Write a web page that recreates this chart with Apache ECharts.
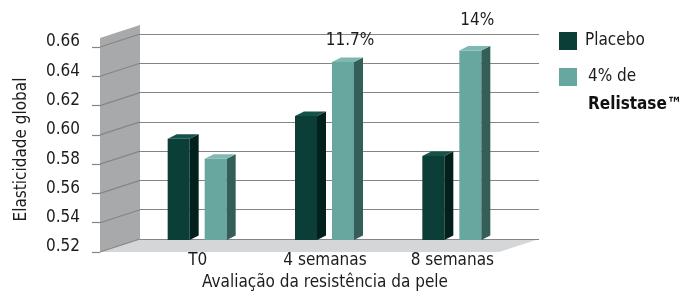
<!DOCTYPE html>
<html>
<head>
<meta charset="utf-8">
<script src="https://cdn.jsdelivr.net/npm/echarts@6/dist/echarts.min.js"></script>
<style>
  html, body { margin: 0; padding: 0; background: #fff; }
  #chart { width: 686px; height: 296px; }
</style>
</head>
<body>
<div id="chart"></div>
<script>
const categories = ['T0', '4 semanas', '8 semanas']
const placebo = [0.591, 0.607, 0.579]
const relistase = [0.577, 0.645, 0.653]
const gainLabels = ['', '11.7%', '14%']
const yTicks = [0.52, 0.54, 0.56, 0.58, 0.60, 0.62, 0.64, 0.66]
const seriesNames = ['Placebo', '4% de Relistase™']

const FONT = "'DejaVu Sans Condensed', 'DejaVu Sans', sans-serif"
const FS = 17
const C = {
  text: '#1c1c1c',
  grid: '#858585',
  wall: '#a8a9ab',
  floor: '#d5d6d7',
  placebo: { front: '#0b3e37', side: '#03211c', top: '#175249' },
  reli: { front: '#67a79f', side: '#335f58', top: '#7fb8b0' },
}

// front plane / back plane / bar plane
const FL = 100, FT = 47, PW = 399, PH = 205, DX = 40, DY = -13
const BAR_W = 22, BD_X = 9, BD_Y = -4.5
const yMin = yTicks[0], yMax = yTicks[yTicks.length - 1], yStep = 0.02
const labelLift = [0, 21, 30]

function renderWalls(params, api) {
  const a = api.coord([0, yMin]), b = api.coord([1, yMin]), t = api.coord([0, yMax])
  const top = t[1] - 9
  const children = [
    { type: 'polygon', shape: { points: [a, b, [b[0] + DX, b[1] + DY], [a[0] + DX, a[1] + DY]] },
      style: { fill: C.floor } },
    { type: 'polygon', shape: { points: [a, [a[0], top], [a[0] + DX, top + DY], [a[0] + DX, a[1] + DY]] },
      style: { fill: C.wall } },
  ]
  yTicks.forEach(v => {
    const p = api.coord([0, v])
    children.push({ type: 'line', shape: { x1: p[0], y1: p[1], x2: p[0] + DX, y2: p[1] + DY },
      style: { stroke: C.grid, lineWidth: 1.2 } })
  })
  return { type: 'group', children }
}

function barRenderer(x0, col, labels) {
  return (params, api) => {
    const idx = api.value(0)
    const p = api.coord([idx, api.value(1)]), base = api.coord([idx, yMin])
    const xl = p[0] + x0, xr = xl + BAR_W, yt = p[1], yb = base[1]
    const children = [
      { type: 'rect', shape: { x: xl, y: yt, width: BAR_W, height: yb - yt }, style: { fill: col.front } },
      { type: 'polygon', shape: { points: [[xr, yt], [xr + BD_X, yt + BD_Y], [xr + BD_X, yb + BD_Y], [xr, yb]] },
        style: { fill: col.side } },
      { type: 'polygon', shape: { points: [[xl, yt], [xl + BD_X, yt + BD_Y], [xr + BD_X, yt + BD_Y], [xr, yt]] },
        style: { fill: col.top } },
    ]
    if (labels && labels[idx]) {
      children.push({ type: 'text', style: {
        text: labels[idx], x: xl + 18, y: yt - labelLift[idx],
        align: 'center', verticalAlign: 'middle', fill: C.text, fontSize: FS, fontFamily: FONT } })
    }
    return { type: 'group', children }
  }
}

const hidden = { show: false }
const chart = echarts.init(document.getElementById('chart'), null, { renderer: 'canvas' })

chart.setOption({
  animation: false,
  textStyle: { fontFamily: FONT },
  grid: [
    { left: FL, top: FT, width: PW, height: PH },
    { left: FL + DX, top: FT + DY, width: PW, height: PH },
    { left: 134, top: FT + DY / 2, width: 382, height: PH },
  ],
  xAxis: [
    { gridIndex: 0, type: 'value', min: 0, max: 1, show: false },
    { gridIndex: 1, type: 'value', min: 0, max: 1, show: false },
    {
      gridIndex: 2, type: 'category', data: categories, z: 4,
      axisLine: hidden, axisTick: hidden,
      axisLabel: { color: C.text, fontSize: FS, fontFamily: FONT, margin: 12, interval: 0 },
      name: 'Avaliação da resistência da pele', nameLocation: 'middle', nameGap: 27,
      nameTextStyle: { color: C.text, fontSize: FS, fontFamily: FONT },
    },
  ],
  yAxis: [
    {
      gridIndex: 0, min: yMin, max: yMax, interval: yStep, z: 4,
      axisLine: hidden, splitLine: hidden,
      axisTick: { show: true, length: 8, lineStyle: { color: C.grid, width: 1.2 } },
      axisLabel: {
        color: C.text, fontSize: FS, fontFamily: FONT, margin: 20,
        verticalAlign: 'bottom', lineHeight: 10, formatter: v => v.toFixed(2),
      },
      name: 'Elasticidade global', nameLocation: 'middle', nameGap: 70,
      nameTextStyle: { color: C.text, fontSize: FS, fontFamily: FONT },
    },
    {
      gridIndex: 1, min: yMin, max: yMax, interval: yStep, z: 3,
      axisLine: hidden, axisTick: hidden, axisLabel: hidden,
      splitLine: { lineStyle: { color: C.grid, width: 1.2 } },
    },
    { gridIndex: 2, min: yMin, max: yMax, interval: yStep, show: false, splitLine: hidden },
  ],
  legend: {
    orient: 'vertical', left: 559, top: 27, padding: 0,
    itemWidth: 18, itemHeight: 18, itemGap: -20, icon: 'rect', selectedMode: false,
    data: [
      { name: seriesNames[0] },
      { name: seriesNames[1], textStyle: { padding: [28, 0, 0, 6] } },
    ],
    formatter: name => name === seriesNames[1] ? '4% de\n{b|Relistase™}' : name,
    textStyle: {
      color: C.text, fontSize: FS, fontFamily: FONT, lineHeight: 28, padding: [0, 0, 0, 3],
      rich: { b: { fontWeight: 'bold', fontSize: FS, fontFamily: FONT, lineHeight: 28, color: '#111' } },
    },
  },
  series: [
    {
      type: 'custom', xAxisIndex: 0, yAxisIndex: 0, z: 1, silent: true,
      renderItem: renderWalls, data: [[0, yMin]],
    },
    {
      name: seriesNames[0], type: 'custom', xAxisIndex: 2, yAxisIndex: 2, z: 5,
      itemStyle: { color: C.placebo.front },
      renderItem: barRenderer(-30, C.placebo, null),
      data: placebo.map((v, i) => [i, v]),
    },
    {
      name: seriesNames[1], type: 'custom', xAxisIndex: 2, yAxisIndex: 2, z: 5,
      itemStyle: { color: C.reli.front },
      renderItem: barRenderer(7, C.reli, gainLabels),
      data: relistase.map((v, i) => [i, v]),
    },
  ],
})
</script>
</body>
</html>
